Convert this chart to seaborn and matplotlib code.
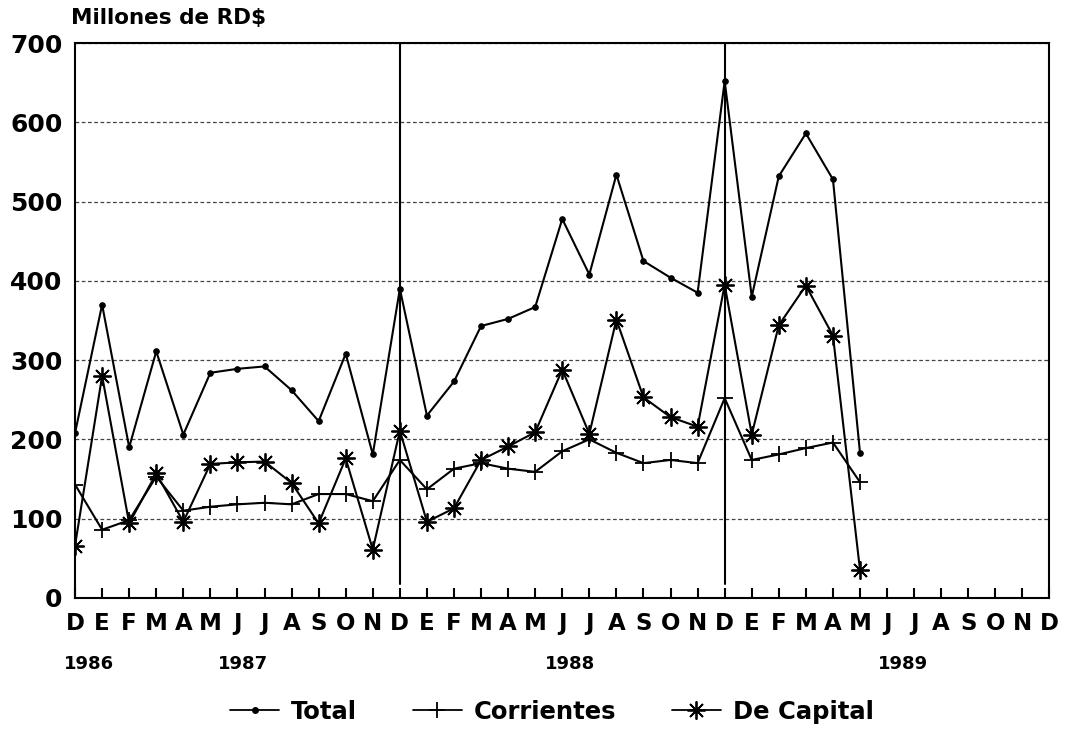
import matplotlib
matplotlib.use("Agg")
import matplotlib.pyplot as plt
import matplotlib.transforms as mtransforms
from matplotlib.lines import Line2D
import seaborn as sns
import pandas as pd

# ---- data (millones de RD$), Dic 1986 .. May 1989 ----
month_labels = ["D", "E", "F", "M", "A", "M", "J", "J", "A", "S", "O", "N",
                "D", "E", "F", "M", "A", "M", "J", "J", "A", "S", "O", "N",
                "D", "E", "F", "M", "A", "M", "J", "J", "A", "S", "O", "N", "D"]
year_labels = ["1986", "1987", "1988", "1989"]
year_label_pos = [0.5, 6.2, 18.3, 30.6]
year_dividers = [12, 24]

total = [208, 370, 190, 311, 206, 284, 289, 292, 262, 223, 308, 181,
         390, 230, 273, 343, 352, 367, 478, 408, 534, 425, 404, 385,
         652, 380, 532, 586, 528, 183]
corrientes = [143, 86, 98, 153, 110, 115, 118, 120, 118, 131, 131, 122,
              174, 137, 163, 170, 163, 159, 185, 200, 183, 170, 174, 170,
              252, 174, 181, 189, 196, 146]
capital = [66, 280, 94, 157, 96, 169, 171, 172, 145, 94, 176, 61,
           211, 96, 113, 174, 191, 209, 288, 207, 351, 253, 228, 216,
           395, 206, 344, 394, 331, 35]

series_names = ["Total", "Corrientes", "De Capital"]

df = pd.DataFrame({"pos": list(range(len(total))),
                   "Total": total, "Corrientes": corrientes, "De Capital": capital})

sns.set_theme(style="white")
plt.rcParams["font.family"] = ["DejaVu Sans"]
plt.rcParams["font.weight"] = "bold"
plt.rcParams["text.color"] = "black"

fig = plt.figure(figsize=(10.72, 7.30), dpi=100)
ax = fig.add_axes([0.070, 0.181, 0.909, 0.760])

styles = {
    "Total": dict(marker="o", markersize=4),
    "Corrientes": dict(marker="+", markersize=12, markeredgewidth=1.3),
    "De Capital": dict(marker=(8, 2, 0), markersize=13, markeredgewidth=1.3),
}
for name in series_names:
    sns.lineplot(data=df, x="pos", y=name, ax=ax, color="black", lw=1.5,
                 markeredgecolor="black", markerfacecolor="black", **styles[name])

ax.set_xlim(0, len(month_labels) - 1)
ax.set_ylim(0, 700)
ax.set_xlabel("")
ax.set_ylabel("")

ax.set_xticks(range(len(month_labels)))
ax.set_xticklabels(month_labels, fontsize=16.5, fontweight="bold")
ax.set_yticks(range(0, 701, 100))
ax.set_yticklabels([str(v) for v in range(0, 701, 100)], fontsize=18, fontweight="bold")
ax.tick_params(axis="x", direction="in", length=7, width=1.5, pad=10,
               colors="black", labelcolor="black", bottom=True)
ax.tick_params(axis="y", length=0, pad=9, colors="black", labelcolor="black", left=False)

ax.yaxis.grid(True, linestyle=(0, (3, 2)), color="#444444", lw=0.9)
ax.xaxis.grid(False)
for x in year_dividers:
    ax.axvline(x, ymin=0.025, ymax=1, color="black", lw=1.5)

for sp in ax.spines.values():
    sp.set_color("black")
    sp.set_linewidth(1.5)

trans = mtransforms.blended_transform_factory(ax.transData, ax.transAxes)
for lab, pos in zip(year_labels, year_label_pos):
    ax.text(pos, -0.119, lab, transform=trans, ha="center", va="center",
            fontsize=13, fontweight="bold", color="black")

fig.text(0.066, 0.975, "Millones de RD$", ha="left", va="center",
         fontsize=15.5, fontweight="bold", color="black")

handles = [Line2D([], [], color="black", lw=1.3, **styles[n]) for n in series_names]
for h in handles:
    h.set_markeredgecolor("black")
    h.set_markerfacecolor("black")
leg = fig.legend(handles, series_names, loc="center", bbox_to_anchor=(0.515, 0.025),
                 ncol=3, frameon=False, prop={"size": 17.5, "weight": "bold"},
                 handlelength=2.0, columnspacing=2.3, handletextpad=0.5)
for t in leg.get_texts():
    t.set_color("black")

fig.savefig("out.png", dpi=100, facecolor="white")
